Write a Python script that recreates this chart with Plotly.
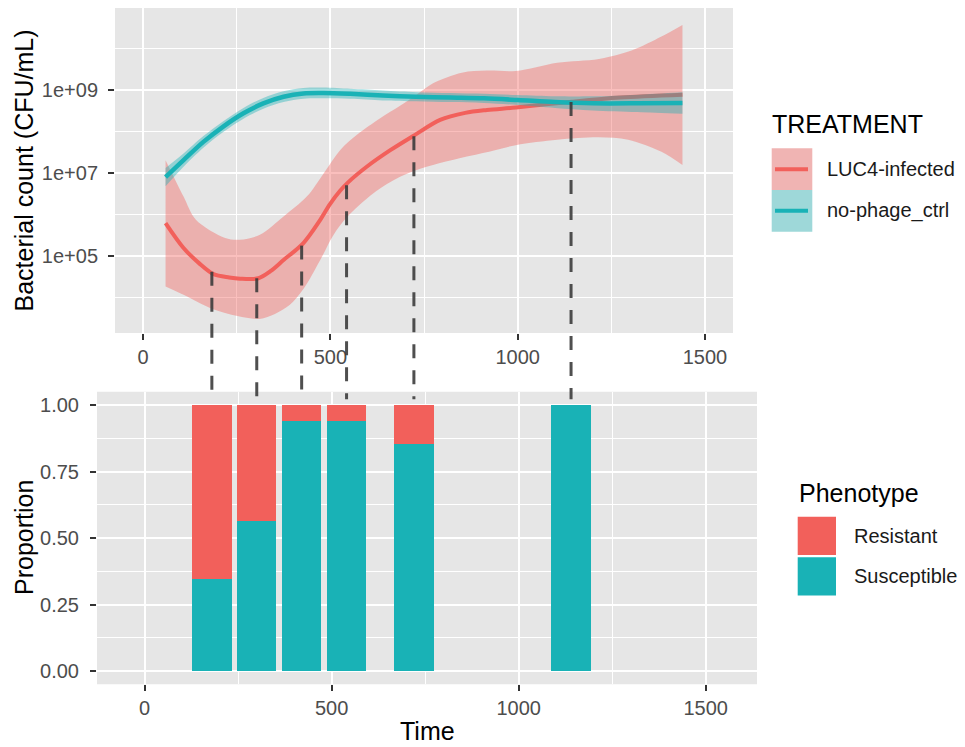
import numpy as np
import plotly.graph_objects as go

# ---------------- data ----------------
# LUC4-infected smooth fit, log10(CFU/mL)
luc_t = [60, 108, 150, 188, 230, 259, 308, 340, 375, 428, 473, 499, 526, 548, 597, 660, 726, 793, 860, 918, 995, 1145, 1273, 1440]
luc_fit = [5.79, 5.19, 4.82, 4.56, 4.48, 4.45, 4.46, 4.63, 4.90, 5.31, 5.87, 6.25, 6.57, 6.78, 7.15, 7.55, 7.92, 8.28, 8.45, 8.52, 8.58, 8.72, 8.82, 8.89]
luc_up_t = [60, 108, 141, 219, 259, 312, 375, 437, 482, 526, 571, 633, 686, 729, 773, 851, 918, 995, 1106, 1217, 1306, 1384, 1440]
luc_up = [7.31, 6.43, 5.87, 5.43, 5.39, 5.51, 5.95, 6.43, 6.99, 7.55, 7.92, 8.32, 8.62, 8.88, 9.16, 9.42, 9.47, 9.46, 9.66, 9.75, 9.96, 10.29, 10.57]
luc_lo_t = [60, 108, 185, 252, 311, 352, 392, 428, 473, 508, 544, 615, 686, 757, 829, 907, 995, 1106, 1217, 1295, 1384, 1440]
luc_lo = [4.26, 4.06, 3.72, 3.55, 3.48, 3.60, 3.82, 4.20, 4.90, 5.50, 5.93, 6.51, 6.91, 7.15, 7.32, 7.48, 7.67, 7.80, 7.86, 7.80, 7.51, 7.19]

# no-phage control smooth fit, log10(CFU/mL)
ctl_t = [60, 108, 161, 214, 268, 321, 375, 428, 482, 553, 640, 730, 820, 910, 1000, 1100, 1200, 1320, 1440]
ctl_fit = [6.90, 7.31, 7.75, 8.12, 8.44, 8.68, 8.84, 8.92, 8.93, 8.91, 8.87, 8.84, 8.82, 8.80, 8.76, 8.71, 8.68, 8.68, 8.69]
ctl_up = [7.12, 7.47, 7.89, 8.25, 8.57, 8.81, 8.97, 9.05, 9.06, 9.03, 8.99, 8.95, 8.93, 8.91, 8.88, 8.85, 8.85, 8.89, 8.95]
ctl_lo = [6.68, 7.15, 7.61, 7.99, 8.31, 8.55, 8.71, 8.79, 8.80, 8.79, 8.75, 8.73, 8.71, 8.69, 8.64, 8.57, 8.51, 8.47, 8.43]

# phenotype proportions at sampling times
bar_time = [180, 300, 420, 540, 720, 1140]
susceptible = [0.347, 0.566, 0.940, 0.940, 0.855, 1.000]
resistant = [0.653, 0.434, 0.060, 0.060, 0.145, 0.000]

treatments = ["LUC4-infected", "no-phage_ctrl"]
phenotypes = ["Resistant", "Susceptible"]

x_ticks = [0, 500, 1000, 1500]
x_minor = [250, 750, 1250]
top_y_ticks = [1e5, 1e7, 1e9]
top_y_text = ["1e+05", "1e+07", "1e+09"]
top_y_minor = [1e4, 1e6, 1e8, 1e10]
bot_y_ticks = [0, 0.25, 0.5, 0.75, 1.0]
bot_y_text = ["0.00", "0.25", "0.50", "0.75", "1.00"]
bot_y_minor = [0.125, 0.375, 0.625, 0.875]

# ---------------- styling ----------------
W, H = 965, 747
RED = "#F2605B"
TEAL = "#19B2B6"
RED_FILL = "rgba(242,96,91,0.40)"
TEAL_FILL = "rgba(25,178,182,0.40)"
PANEL = "#E6E6E6"
FONT = "Liberation Sans, Arial, Helvetica, sans-serif"
TICKCOL = "#4D4D4D"

def px(x):
    return x / W

def py(y):
    return 1 - y / H

TOP_XDOM = [px(115), px(733)]
TOP_YDOM = [py(333), py(8)]
BOT_XDOM = [px(97), px(757)]
BOT_YDOM = [py(684.3), py(391.7)]
TOP_XRANGE = [-75, 1575]
TOP_YRANGE = [3.14, 10.98]
BOT_XRANGE = [-127, 1637]
BOT_YRANGE = [-0.05, 1.05]

def p10(a):
    return [10 ** v for v in a]

fig = go.Figure()

SPL = dict(shape="spline", smoothing=0.9)

# LUC4 ribbon + line
fig.add_trace(go.Scatter(x=luc_lo_t, y=p10(luc_lo), mode="lines", line=dict(width=0, **SPL),
                         showlegend=False, hoverinfo="skip", xaxis="x", yaxis="y"))
fig.add_trace(go.Scatter(x=luc_up_t, y=p10(luc_up), mode="lines", line=dict(width=0, **SPL),
                         fill="tonexty", fillcolor=RED_FILL, showlegend=False, hoverinfo="skip",
                         xaxis="x", yaxis="y"))
fig.add_trace(go.Scatter(x=luc_t, y=p10(luc_fit), mode="lines", name=treatments[0],
                         line=dict(color=RED, width=4, **SPL), showlegend=False,
                         xaxis="x", yaxis="y"))
# control ribbon + line
fig.add_trace(go.Scatter(x=ctl_t, y=p10(ctl_lo), mode="lines", line=dict(width=0, **SPL),
                         showlegend=False, hoverinfo="skip", xaxis="x", yaxis="y"))
fig.add_trace(go.Scatter(x=ctl_t, y=p10(ctl_up), mode="lines", line=dict(width=0, **SPL),
                         fill="tonexty", fillcolor=TEAL_FILL, showlegend=False, hoverinfo="skip",
                         xaxis="x", yaxis="y"))
fig.add_trace(go.Scatter(x=ctl_t, y=p10(ctl_fit), mode="lines", name=treatments[1],
                         line=dict(color=TEAL, width=4.5, **SPL), showlegend=False,
                         xaxis="x", yaxis="y"))

# stacked proportion bars
fig.add_trace(go.Bar(x=bar_time, y=susceptible, width=105, name=phenotypes[1], marker=dict(color=TEAL, line=dict(width=0)),
                     showlegend=False, xaxis="x2", yaxis="y2"))
fig.add_trace(go.Bar(x=bar_time, y=resistant, width=105, name=phenotypes[0], marker=dict(color=RED, line=dict(width=0)),
                     showlegend=False, xaxis="x2", yaxis="y2"))

# ---------------- axes ----------------
def axis_common():
    return dict(showline=False, zeroline=False, ticks="outside", ticklen=6, tickwidth=1.5,
                tickcolor="#333333", tickfont=dict(family=FONT, size=20, color=TICKCOL),
                showgrid=True, gridcolor="white", gridwidth=2, automargin=False)

xa = axis_common()
xa.update(domain=TOP_XDOM, range=TOP_XRANGE, anchor="y", tickmode="array", tickvals=x_ticks,
          minor=dict(tickmode="array", tickvals=x_minor, showgrid=True, gridcolor="white", gridwidth=1))
ya = axis_common()
ya.update(domain=TOP_YDOM, type="log", range=TOP_YRANGE, anchor="x", tickmode="array",
          tickvals=top_y_ticks, ticktext=top_y_text, ticklabelstandoff=6,
          minor=dict(tickmode="array", tickvals=top_y_minor, showgrid=True, gridcolor="white", gridwidth=1))
xa2 = axis_common()
xa2.update(domain=BOT_XDOM, range=BOT_XRANGE, anchor="y2", tickmode="array", tickvals=x_ticks,
           minor=dict(tickmode="array", tickvals=x_minor, showgrid=True, gridcolor="white", gridwidth=1))
ya2 = axis_common()
ya2.update(domain=BOT_YDOM, range=BOT_YRANGE, anchor="x2", tickmode="array",
           tickvals=bot_y_ticks, ticktext=bot_y_text, ticklabelstandoff=7,
           minor=dict(tickmode="array", tickvals=bot_y_minor, showgrid=True, gridcolor="white", gridwidth=1))

shapes = []
# panel backgrounds
for xd, yd in [(TOP_XDOM, TOP_YDOM), (BOT_XDOM, BOT_YDOM)]:
    shapes.append(dict(type="rect", xref="paper", yref="paper", x0=xd[0], x1=xd[1], y0=yd[0], y1=yd[1],
                       fillcolor=PANEL, line=dict(width=0), layer="below"))

# dashed connectors from the infected curve down to the bar tops
def top_paper(logv):
    f = (logv - TOP_YRANGE[0]) / (TOP_YRANGE[1] - TOP_YRANGE[0])
    return TOP_YDOM[0] + f * (TOP_YDOM[1] - TOP_YDOM[0])

def bot_paper(v):
    f = (v - BOT_YRANGE[0]) / (BOT_YRANGE[1] - BOT_YRANGE[0])
    return BOT_YDOM[0] + f * (BOT_YDOM[1] - BOT_YDOM[0])

curve_at_bars = np.interp(bar_time, luc_t, luc_fit)
for t, lv in zip(bar_time, curve_at_bars):
    shapes.append(dict(type="line", xref="x2", yref="paper", x0=t, x1=t,
                       y0=top_paper(lv), y1=bot_paper(1.022),
                       line=dict(color="rgba(60,60,60,0.9)", width=3, dash="14px,12px"), layer="above"))

annotations = []
def txt(text, x, y, size, color="black", xanchor="left", angle=0):
    annotations.append(dict(text=text, x=px(x), y=py(y), xref="paper", yref="paper", showarrow=False,
                            xanchor=xanchor, yanchor="middle", textangle=angle,
                            font=dict(family=FONT, size=size, color=color)))

# axis titles
txt("Bacterial count (CFU/mL)", 24, 170.5, 25, xanchor="center", angle=-90)
txt("Proportion", 24, 538, 25, xanchor="center", angle=-90)
txt("Time", 427, 731, 25, xanchor="center")

# TREATMENT legend
txt("TREATMENT", 770, 124, 25)
key_fill = ["rgb(240,180,179)", "rgb(158,216,217)"]
key_line = [RED, TEAL]
for i, name in enumerate(treatments):
    y0 = 148.3 + i * 41.7
    y1 = y0 + 41.7
    shapes.append(dict(type="rect", xref="paper", yref="paper", x0=px(771.7), x1=px(812.3),
                       y0=py(y1), y1=py(y0), fillcolor=key_fill[i], line=dict(width=0)))
    yc = (y0 + y1) / 2
    shapes.append(dict(type="line", xref="paper", yref="paper", x0=px(775), x1=px(808),
                       y0=py(yc), y1=py(yc), line=dict(color=key_line[i], width=4)))
    txt(name, 825, yc, 20, color="#1a1a1a")

# Phenotype legend
txt("Phenotype", 797, 493, 25)
ph_col = [RED, TEAL]
for i, name in enumerate(phenotypes):
    y0 = 516.7 + i * 40.6
    y1 = y0 + 38.2
    shapes.append(dict(type="rect", xref="paper", yref="paper", x0=px(797.7), x1=px(836),
                       y0=py(y1), y1=py(y0), fillcolor=ph_col[i], line=dict(width=0)))
    txt(name, 851.7, (y0 + y1) / 2, 20, color="#1a1a1a")

fig.update_layout(
    width=W, height=H, margin=dict(l=0, r=0, t=0, b=0),
    paper_bgcolor="white", plot_bgcolor="rgba(0,0,0,0)",
    barmode="stack", bargap=0, showlegend=False,
    xaxis=xa, yaxis=ya, xaxis2=xa2, yaxis2=ya2,
    shapes=shapes, annotations=annotations,
    font=dict(family=FONT),
)

fig.write_html("out.html")
